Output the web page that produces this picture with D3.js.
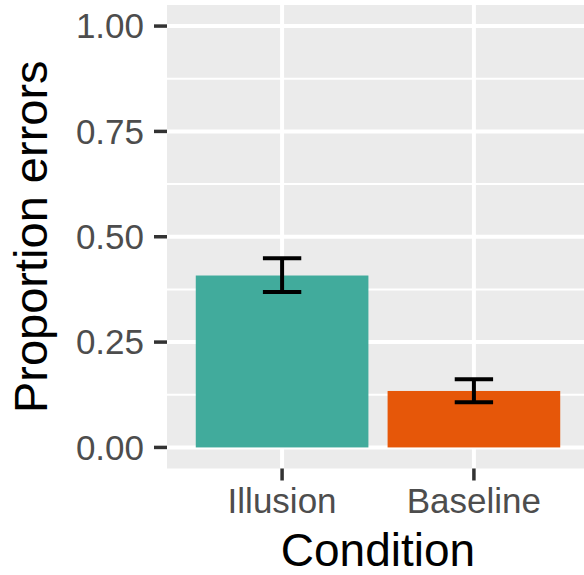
<!DOCTYPE html>
<html>
<head>
<meta charset="utf-8">
<script src="https://cdn.jsdelivr.net/npm/d3@7"></script>
<style>
  html, body { margin: 0; padding: 0; background: #ffffff; }
  svg { display: block; }
  text { font-family: "Liberation Sans", Arial, Helvetica, sans-serif; }
</style>
</head>
<body>
<script>
// ---- data ----
const categories = ["Illusion", "Baseline"];
const means = [0.408, 0.134];
const lowers = [0.369, 0.107];
const uppers = [0.449, 0.162];
const barColors = ["#41AB9C", "#E65709"];
const yTicks = [0, 0.25, 0.5, 0.75, 1.0];
const yMinorTicks = [0.125, 0.375, 0.625, 0.875];
const yTickLabels = ["0.00", "0.25", "0.50", "0.75", "1.00"];
const xTitle = "Condition";
const yTitle = "Proportion errors";

// ---- layout ----
const W = 584, H = 575;
const panel = { left: 167, right: 589, top: 5, bottom: 468.5 };

const svg = d3.select("body").append("svg")
  .attr("width", W).attr("height", H);

const x = d3.scaleBand()
  .domain(categories)
  .range([panel.left, panel.right])
  .paddingInner(0.1)
  .paddingOuter(0.15);
const step = x.step();
const xc = c => x(c) + x.bandwidth() / 2;

const y = d3.scaleLinear()
  .domain([-0.05, 1.05])
  .range([panel.bottom, panel.top]);

// panel background
svg.append("rect")
  .attr("x", panel.left).attr("y", panel.top)
  .attr("width", panel.right - panel.left)
  .attr("height", panel.bottom - panel.top)
  .attr("fill", "#EBEBEB");

// minor gridlines
svg.append("g").selectAll("line").data(yMinorTicks).join("line")
  .attr("x1", panel.left).attr("x2", panel.right)
  .attr("y1", d => y(d)).attr("y2", d => y(d))
  .attr("stroke", "#ffffff").attr("stroke-width", 2);

// major gridlines
svg.append("g").selectAll("line").data(yTicks).join("line")
  .attr("x1", panel.left).attr("x2", panel.right)
  .attr("y1", d => y(d)).attr("y2", d => y(d))
  .attr("stroke", "#ffffff").attr("stroke-width", 4);
svg.append("g").selectAll("line").data(categories).join("line")
  .attr("x1", d => xc(d)).attr("x2", d => xc(d))
  .attr("y1", panel.top).attr("y2", panel.bottom)
  .attr("stroke", "#ffffff").attr("stroke-width", 4);

// bars
const rows = categories.map((c, i) => ({ c, m: means[i], lo: lowers[i], hi: uppers[i], col: barColors[i] }));
svg.append("g").selectAll("rect").data(rows).join("rect")
  .attr("x", d => x(d.c))
  .attr("width", x.bandwidth())
  .attr("y", d => y(d.m))
  .attr("height", d => y(0) - y(d.m))
  .attr("fill", d => d.col);

// error bars
const capHalf = step * 0.1;
const eb = svg.append("g").attr("stroke", "#000").attr("stroke-width", 4).attr("fill", "none");
rows.forEach(d => {
  const cx = xc(d.c);
  eb.append("line").attr("x1", cx).attr("x2", cx).attr("y1", y(d.lo)).attr("y2", y(d.hi));
  eb.append("line").attr("x1", cx - capHalf).attr("x2", cx + capHalf).attr("y1", y(d.lo)).attr("y2", y(d.lo));
  eb.append("line").attr("x1", cx - capHalf).attr("x2", cx + capHalf).attr("y1", y(d.hi)).attr("y2", y(d.hi));
});

// y axis ticks + labels
const yAxis = svg.append("g");
yAxis.selectAll("line").data(yTicks).join("line")
  .attr("x1", panel.left - 13).attr("x2", panel.left)
  .attr("y1", d => y(d)).attr("y2", d => y(d))
  .attr("stroke", "#333333").attr("stroke-width", 3.5);
yAxis.selectAll("text").data(yTicks).join("text")
  .attr("x", panel.left - 23)
  .attr("y", d => y(d))
  .attr("dy", "0.35em")
  .attr("text-anchor", "end")
  .attr("font-size", 35)
  .attr("fill", "#4D4D4D")
  .text((d, i) => yTickLabels[i]);

// x axis ticks + labels
const xAxis = svg.append("g");
xAxis.selectAll("line").data(categories).join("line")
  .attr("x1", d => xc(d)).attr("x2", d => xc(d))
  .attr("y1", panel.bottom).attr("y2", panel.bottom + 12)
  .attr("stroke", "#333333").attr("stroke-width", 3.5);
xAxis.selectAll("text").data(categories).join("text")
  .attr("x", d => xc(d))
  .attr("y", 513)
  .attr("text-anchor", "middle")
  .attr("font-size", 35)
  .attr("fill", "#4D4D4D")
  .text(d => d);

// axis titles
svg.append("text")
  .attr("x", (panel.left + panel.right) / 2)
  .attr("y", 566)
  .attr("text-anchor", "middle")
  .attr("font-size", 46)
  .attr("fill", "#000")
  .text(xTitle);

svg.append("text")
  .attr("transform", `translate(47,${(panel.top + panel.bottom) / 2}) rotate(-90)`)
  .attr("text-anchor", "middle")
  .attr("font-size", 47)
  .attr("fill", "#000")
  .text(yTitle);
</script>
</body>
</html>
